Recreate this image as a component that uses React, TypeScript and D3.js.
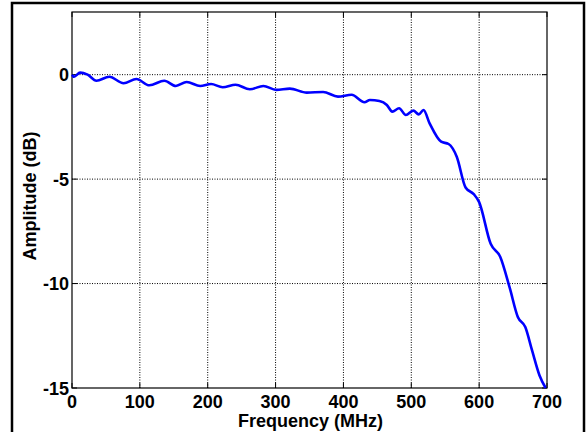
import React from "react";
import * as d3 from "d3";

const freqs = [0, 3, 12, 23, 36, 55, 76, 95, 114, 136, 153, 169, 189, 205, 222, 241, 262, 282, 301, 321, 346, 370, 392, 412, 431, 439, 453, 464, 472, 482, 492, 503, 511, 518, 527, 544, 555, 567, 580, 592, 600, 617, 631, 645, 657, 668, 678, 689, 698];
const amps = [0.0, -0.1, 0.1, 0.0, -0.29, -0.1, -0.41, -0.21, -0.51, -0.29, -0.54, -0.35, -0.54, -0.45, -0.6, -0.48, -0.7, -0.54, -0.73, -0.67, -0.86, -0.83, -1.05, -0.96, -1.32, -1.21, -1.26, -1.45, -1.77, -1.61, -1.93, -1.72, -1.9, -1.69, -2.33, -3.21, -3.32, -3.93, -5.4, -5.72, -6.1, -8.1, -8.72, -10.2, -11.6, -12.08, -13.2, -14.4, -15.0];
const xTicks = [0, 100, 200, 300, 400, 500, 600, 700];
const yTicks = [0, -5, -10, -15];

const W = 586, H = 432;
const L = 72, R = 547, T = 12, B = 388;

export default function App() {
  const x = d3.scaleLinear().domain([0, 700]).range([L, R]);
  const y = d3.scaleLinear().domain([-15, 3]).range([B, T]);
  const pts = freqs.map((f, i) => [f, amps[i]] as [number, number]);
  const line = d3.line<[number, number]>().x(d => x(d[0])).y(d => y(d[1])).curve(d3.curveMonotoneX);
  const font = "'Liberation Sans', Arial, sans-serif";
  const fs = 18;
  return (
    <svg width={W} height={H} style={{ position: "fixed", left: 0, top: 0, background: "#fff" }}>
      <rect x={0} y={0} width={W} height={H} fill="#fff" />
      <rect x={12} y={3} width={572} height={450} fill="none" stroke="#000" strokeWidth={2.5} />
      {xTicks.filter(t => t > 0 && t < 700).map(t => (
        <line key={"gx" + t} x1={x(t)} x2={x(t)} y1={T} y2={B} stroke="#000" strokeWidth={1} strokeDasharray="1,1.5" />
      ))}
      {yTicks.filter(t => t > -15).map(t => (
        <line key={"gy" + t} x1={L} x2={R} y1={y(t)} y2={y(t)} stroke="#000" strokeWidth={1} strokeDasharray="1,1.5" />
      ))}
      {xTicks.map(t => (
        <g key={"tx" + t}>
          <line x1={x(t)} x2={x(t)} y1={B} y2={B - 5} stroke="#000" />
          <line x1={x(t)} x2={x(t)} y1={T} y2={T + 5} stroke="#000" />
        </g>
      ))}
      {yTicks.map(t => (
        <g key={"ty" + t}>
          <line x1={L} x2={L + 5} y1={y(t)} y2={y(t)} stroke="#000" />
          <line x1={R} x2={R - 5} y1={y(t)} y2={y(t)} stroke="#000" />
        </g>
      ))}
      <rect x={L} y={T} width={R - L} height={B - T} fill="none" stroke="#000" strokeWidth={1.2} />
      <path d={line(pts) || ""} fill="none" stroke="#0000ff" strokeWidth={2.6} strokeLinejoin="round" />
      {xTicks.map(t => (
        <text key={"lx" + t} x={x(t)} y={408} textAnchor="middle" fontFamily={font} fontWeight="bold" fontSize={fs}>{t}</text>
      ))}
      {yTicks.map(t => (
        <text key={"ly" + t} x={69} y={y(t) + 6.5} textAnchor="end" fontFamily={font} fontWeight="bold" fontSize={fs}>{t}</text>
      ))}
      <text x={(L + R) / 2 + 1} y={427} textAnchor="middle" fontFamily={font} fontWeight="bold" fontSize={fs}>Frequency (MHz)</text>
      <text transform={`translate(36, ${(T + B) / 2 - 4}) rotate(-90)`} textAnchor="middle" fontFamily={font} fontWeight="bold" fontSize={fs}>Amplitude (dB)</text>
    </svg>
  );
}
